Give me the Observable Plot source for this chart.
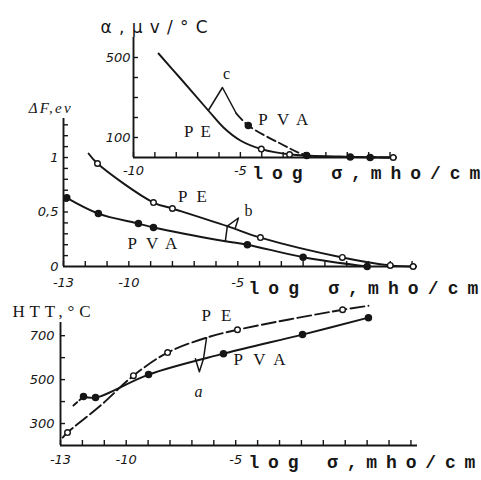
<!DOCTYPE html>
<html><head><meta charset="utf-8">
<script src="https://cdn.jsdelivr.net/npm/d3@7"></script>
<script src="https://cdn.jsdelivr.net/npm/@observablehq/plot@0.6"></script>
<style>
html,body{margin:0;padding:0;background:#fff;}
#chart{position:relative;width:481px;height:480px;overflow:hidden;background:#fff;}
#chart svg{position:absolute;left:0;top:0;}
</style></head><body><div id="chart"></div>
<script>
// ================= DATA =================
// Panel c (inset): thermoelectric power alpha (uV/°C) vs log sigma
const cPE_logS   = [-8.83, -7.8, -6.5, -5.79, -5.0, -4.02, -2.66, -0.33, 2.15];
const cPE_alpha  = [520, 395, 235, 150, 85, 42, 15, 5, 0];
const cPEm_logS  = [-4.02, -2.7, 2.15];
const cPEm_alpha = [42, 15, 0];
const cPVA_logS  = [-5.19, -4.63, -3.13, -1.87, 0.14, 2.15];
const cPVA_alpha = [220, 160, 70, 10, 3, 0];
const cPVAm_logS = [-4.63, -1.9, 0.14, 1.07];
const cPVAm_alpha= [160, 10, 3, 0];

// Panel b (middle): activation energy dF (eV) vs log sigma
const bPE_logS  = [-11.85, -11.44, -8.87, -8.0, -5.48, -3.96, -0.2, 2.0, 3.05];
const bPE_dF    = [1.037, 0.945, 0.587, 0.532, 0.37, 0.265, 0.083, 0.01, 0];
const bPEm_logS = [-11.44, -8.87, -8.0, -3.96, -0.2, 2.0, 3.05];
const bPEm_dF   = [0.945, 0.587, 0.532, 0.265, 0.083, 0.01, 0];
const bPVA_logS = [-12.85, -11.4, -9.56, -8.87, -5.57, -4.56, -2.0, 0.94];
const bPVA_dF   = [0.63, 0.486, 0.394, 0.358, 0.232, 0.2, 0.085, 0];
const bPVAm_logS= [-12.85, -11.4, -9.56, -8.87, -4.56, -2.0, 0.94];
const bPVAm_dF  = [0.63, 0.486, 0.394, 0.358, 0.2, 0.085, 0];

// Panel a (bottom): heat-treatment temperature HTT (°C) vs log sigma
const aPE_logS   = [-12.9, -12.68, -11.17, -9.67, -8.11, -6.33, -4.92, -0.12, 1.06];
const aPE_htt    = [236, 259, 382, 518, 623, 691, 727, 818, 836];
const aPEm_logS  = [-12.68, -9.67, -8.11, -4.92, -0.12];
const aPEm_htt   = [259, 518, 623, 727, 818];
const aPVA_logS  = [-11.95, -11.4, -8.98, -5.56, -1.95, 1.06];
const aPVA_htt   = [423, 418, 523, 618, 705, 782];
const aPVAx_logS = [-12.41, -11.95];   // dashed extrapolation
const aPVAx_htt  = [382, 423];

// Ticks and tick labels
const cXTicks = d3.range(-10, 3), cXLabels = [-10, -5];
const cYTicks = [100, 200, 300, 400, 500], cYLabels = [100, 500];
const bXTicks = d3.range(-13, 4), bXLabels = [-13, -10, -5];
const bYTicks = d3.range(1, 14).map(i => i / 10), bYLabels = [0, 0.5, 1];
const aXTicks = d3.range(-13, 4), aXLabels = [-13, -10, -5];
const aYTicks = [300, 400, 500, 600, 700], aYLabels = [300, 500, 700];

// Texts
const xTitle = "log σ,mho/cm";
const cYTitle = "α,μv/°C", bYTitle = "ΔF,ev", aYTitle = "HTT,°C";
const cLabels = [{t: "PE", x: -7.01, y: 130}, {t: "PVA", x: -2.99, y: 190}];
const bLabels = [{t: "PE", x: -7.08, y: 0.642}, {t: "PVA", x: -8.92, y: 0.211}];
const aLabels = [{t: "PE", x: -5.88, y: 791}, {t: "PVA", x: -3.91, y: 591}];
const cTag = {t: "c", x: -5.65, y: 420}, bTag = {t: "b", x: -4.51, y: 0.514}, aTag = {t: "a", x: -6.70, y: 445};
const cPointer = {x: [-6.5, -5.84, -5.19], y: [235, 350, 220]};
const bPointer = {x: [-5.57, -5.48, -4.97, -5.11], y: [0.232, 0.37, 0.445, 0.355]};
const aPointer = {x: [-6.84, -6.66, -6.47, -6.33], y: [595, 536, 595, 691]};

// ================= DRAWING =================
const W = 481, H = 480, INK = "#161616";
const NUMF = "DejaVu Sans", MONO = "Liberation Mono", SERIF = "Liberation Serif";
const pts = (xs, ys) => xs.map((x, i) => ({x, y: ys[i]}));

function curveMarks(pe, pem, pva, pvam, peDash, pvaDash) {
  return [
    Plot.line(pts(...pe), {x: "x", y: "y", curve: "catmull-rom", stroke: INK, strokeWidth: 1.9, strokeDasharray: peDash}),
    Plot.line(pts(...pva), {x: "x", y: "y", curve: "catmull-rom", stroke: INK, strokeWidth: 1.9, strokeDasharray: pvaDash}),
    pem ? Plot.dot(pts(...pem), {x: "x", y: "y", r: 2.8, fill: "white", stroke: INK, strokeWidth: 1.4}) : null,
    pvam ? Plot.dot(pts(...pvam), {x: "x", y: "y", r: 3, fill: INK, stroke: INK}) : null
  ];
}

function makePanel(p) {
  const fw = W - p.ml - p.mr, fh = H - p.mt - p.mb;
  const svg = Plot.plot({
    width: W, height: H,
    marginLeft: p.ml, marginRight: p.mr, marginTop: p.mt, marginBottom: p.mb,
    x: {domain: p.xDomain}, y: {domain: p.yDomain},
    style: {background: "transparent", overflow: "visible", color: INK},
    marks: [
      Plot.ruleY([p.yDomain[0]], {stroke: INK, strokeWidth: 1.9}),
      Plot.ruleX([p.xDomain[0]], {stroke: INK, strokeWidth: 1.9}),
      Plot.tickX(p.xTicks, {x: d => d, insetTop: fh - 5, stroke: INK, strokeWidth: 1.4}),
      Plot.tickY(p.yTicks, {y: d => d, insetRight: fw - 5, stroke: INK, strokeWidth: 1.4}),
      Plot.axisX(p.xLabels, {tickSize: 0, tickPadding: p.xPad, label: null, fontSize: 13, fontStyle: "italic", fontFamily: NUMF, fill: INK, tickFormat: d => String(d)}),
      Plot.axisY(p.yLabels, {tickSize: 0, tickPadding: p.yPad, label: null, fontSize: 13, fontStyle: "italic", fontFamily: NUMF, fill: INK, tickFormat: p.yFormat || (d => String(d))}),
      Plot.text([xTitle], {x: [p.xTitleX], frameAnchor: "bottom", textAnchor: "start", lineAnchor: "bottom", dy: p.xTitleDy, fontSize: 18, fontWeight: "bold", fontFamily: MONO, fill: INK}),
      Plot.text([p.yTitle], {x: [p.yTitleX], y: [p.yTitleY], textAnchor: "start", lineAnchor: "middle", fontSize: p.yTitleSize, fontStyle: p.yTitleStyle, fontFamily: p.yTitleFont, fill: INK}),
      Plot.text(p.labels, {x: "x", y: "y", text: "t", fontSize: 17, fontFamily: SERIF, fill: INK}),
      Plot.text([p.tag], {x: "x", y: "y", text: "t", fontSize: 16, fontStyle: p.tagStyle, fontFamily: SERIF, fill: INK}),
      Plot.line(pts(p.pointer.x, p.pointer.y), {x: "x", y: "y", stroke: INK, strokeWidth: 1.5}),
      ...p.marks
    ].filter(Boolean)
  });
  d3.select(svg).selectAll("text").each(function () {
    const L = p.lengths[this.textContent];
    if (L) { this.setAttribute("textLength", L); this.setAttribute("lengthAdjust", "spacing"); }
  });
  return svg;
}

const chart = document.getElementById("chart");

// middle panel (b)
chart.appendChild(makePanel({
  ml: 63, mr: 64, mt: 118, mb: 214, xDomain: [-13, 3.25], yDomain: [0, 1.358],
  xTicks: bXTicks, yTicks: bYTicks, xLabels: bXLabels, yLabels: bYLabels, xPad: 11, yPad: 5,
  yFormat: d => d === 0.5 ? "0,5" : String(d),
  xTitleX: -4.51, xTitleDy: 27,
  yTitle: bYTitle, yTitleX: -14.6, yTitleY: 1.45, yTitleSize: 15, yTitleStyle: "italic", yTitleFont: SERIF,
  labels: bLabels, tag: bTag, tagStyle: "normal", pointer: bPointer,
  lengths: {[xTitle]: 230, "PE": 29, "PVA": 50, [bYTitle]: 42},
  marks: curveMarks([bPE_logS, bPE_dF], [bPEm_logS, bPEm_dF], [bPVA_logS, bPVA_dF], [bPVAm_logS, bPVAm_dF], null, null)
}));

// bottom panel (a)
chart.appendChild(makePanel({
  ml: 60, mr: 64, mt: 322, mb: 35, xDomain: [-13, 3.3], yDomain: [200, 760],
  xTicks: aXTicks, yTicks: aYTicks, xLabels: aXLabels, yLabels: aYLabels, xPad: 9, yPad: 6,
  xTitleX: -4.42, xTitleDy: 22,
  yTitle: aYTitle, yTitleX: -15.19, yTitleY: 810, yTitleSize: 17, yTitleStyle: "normal", yTitleFont: SERIF,
  labels: aLabels, tag: aTag, tagStyle: "italic", pointer: aPointer,
  lengths: {[xTitle]: 227, "PE": 30, "PVA": 52, [aYTitle]: 78},
  marks: [
    ...curveMarks([aPE_logS, aPE_htt], [aPEm_logS, aPEm_htt], [aPVA_logS, aPVA_htt], [aPVA_logS, aPVA_htt], "14,4", null),
    Plot.line(pts(aPVAx_logS, aPVAx_htt), {x: "x", y: "y", stroke: INK, strokeWidth: 1.9, strokeDasharray: "5,3"})
  ]
}));

// top inset panel (c)
chart.appendChild(makePanel({
  ml: 133, mr: 84, mt: 37, mb: 323, xDomain: [-10, 2.35], yDomain: [0, 600],
  xTicks: cXTicks, yTicks: cYTicks, xLabels: cXLabels, yLabels: cYLabels, xPad: 8, yPad: 3,
  xTitleX: -4.44, xTitleDy: 21,
  yTitle: cYTitle, yTitleX: -11.54, yTitleY: 650, yTitleSize: 17, yTitleStyle: "normal", yTitleFont: NUMF,
  labels: cLabels, tag: cTag, tagStyle: "normal", pointer: cPointer,
  lengths: {[xTitle]: 228, "PE": 27, "PVA": 50, [cYTitle]: 107},
  marks: curveMarks([cPE_logS, cPE_alpha], [cPEm_logS, cPEm_alpha], [cPVA_logS, cPVA_alpha], [cPVAm_logS, cPVAm_alpha], null, "9,4")
}));
</script></body></html>
